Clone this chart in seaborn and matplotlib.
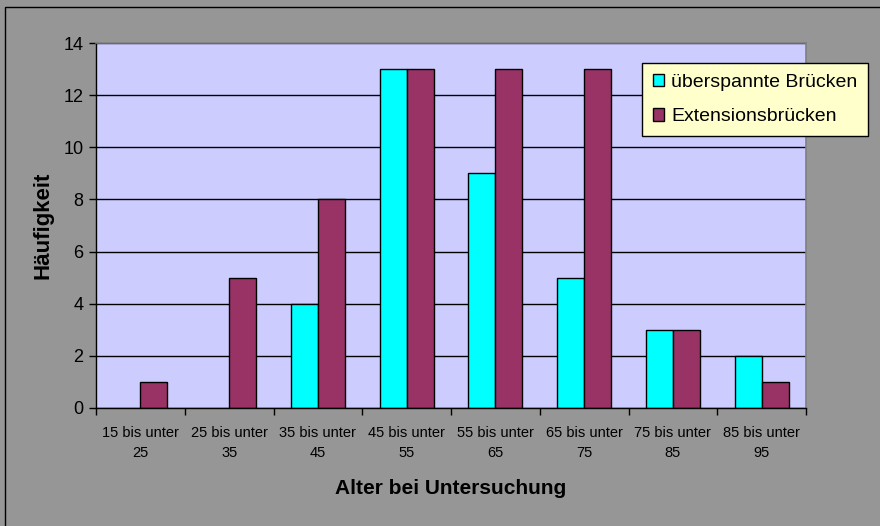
import matplotlib
matplotlib.use("Agg")
import matplotlib.pyplot as plt
import seaborn as sns
import pandas as pd
from matplotlib.patches import Rectangle
from matplotlib.ticker import FixedLocator

categories = ["15 bis unter\n25", "25 bis unter\n35", "35 bis unter\n45", "45 bis unter\n55",
              "55 bis unter\n65", "65 bis unter\n75", "75 bis unter\n85", "85 bis unter\n95"]
ueberspannte = [0, 0, 4, 13, 9, 5, 3, 2]
extension = [1, 5, 8, 13, 13, 13, 3, 1]
series_names = ["überspannte Brücken", "Extensionsbrücken"]
colors = ["#00FFFF", "#993366"]

df = pd.DataFrame({
    "Alter": categories * 2,
    "Häufigkeit": ueberspannte + extension,
    "Typ": [series_names[0]] * len(categories) + [series_names[1]] * len(categories),
})

sns.set_style("white")
plt.rcParams["font.family"] = ["Liberation Sans", "DejaVu Sans"]
plt.rcParams["text.color"] = "black"
plt.rcParams["axes.labelcolor"] = "black"
plt.rcParams["xtick.color"] = "black"
plt.rcParams["ytick.color"] = "black"

fig = plt.figure(figsize=(8.8, 5.26), dpi=100)
fig.patch.set_facecolor("#969696")
ax = fig.add_axes([96 / 880, 118 / 526, 710 / 880, 365 / 526])
ax.set_facecolor("#CCCCFF")

sns.barplot(data=df, x="Alter", y="Häufigkeit", hue="Typ", palette=colors,
            width=0.61, edgecolor="black", linewidth=1.0, ax=ax, legend=False,
            saturation=1)

# empty counts draw no bar at all
for bar in ax.patches:
    if bar.get_height() == 0:
        bar.set_visible(False)

ax.set_xlim(-0.5, len(categories) - 0.5)
ax.set_ylim(0, 14)
ax.set_yticks(range(0, 15, 2))
ax.yaxis.grid(True, color="black", linewidth=1.0)
ax.set_axisbelow(True)
ax.tick_params(axis="y", which="major", length=5, width=1, color="black",
               labelsize=13, pad=4, left=True, direction="out")

# category boundaries carry the tick marks, labels sit between them
ax.xaxis.set_minor_locator(FixedLocator([i - 0.5 for i in range(len(categories) + 1)]))
ax.tick_params(axis="x", which="major", length=0, labelsize=10.5, pad=13)
ax.tick_params(axis="x", which="minor", length=5, width=1, color="black",
               bottom=True, direction="out")
for lbl in ax.get_xticklabels():
    lbl.set_linespacing(1.55)

for side in ["top", "right"]:
    ax.spines[side].set_color("#808080")
    ax.spines[side].set_linewidth(1.2)
for side in ["left", "bottom"]:
    ax.spines[side].set_color("black")
    ax.spines[side].set_linewidth(1.0)

ax.set_xlabel("Alter bei Untersuchung", fontsize=15, fontweight="bold")
ax.set_ylabel("Häufigkeit", fontsize=16, fontweight="bold")
ax.xaxis.set_label_coords(0.5, -(488 - 408) / 365, transform=ax.transAxes)
ax.yaxis.set_label_coords(-(96 - 43) / 710, (408 - 225) / 365, transform=ax.transAxes)
ax.xaxis.label.set_va("center")
ax.yaxis.label.set_va("center")

# legend in a pale yellow box
handles = [Rectangle((0, 0), 1, 1, facecolor=c, edgecolor="black", linewidth=1.0) for c in colors]
leg = fig.legend(handles, series_names, loc="upper left",
                 bbox_to_anchor=(642 / 880, 1 - 63 / 526), fontsize=14,
                 frameon=True, fancybox=False, facecolor="#FFFFCC", edgecolor="black",
                 handlelength=0.6, handleheight=0.6, handletextpad=0.35,
                 borderpad=0.55, labelspacing=0.9, borderaxespad=0)
leg.get_frame().set_linewidth(1.0)
leg.get_frame().set_alpha(1)

# chart area border
fig.patches.append(Rectangle((5 / 880, -10 / 526), 890 / 880, 529 / 526, transform=fig.transFigure,
                             fill=False, edgecolor="black", linewidth=1.0))

fig.savefig("out.png", dpi=100, facecolor=fig.get_facecolor())
